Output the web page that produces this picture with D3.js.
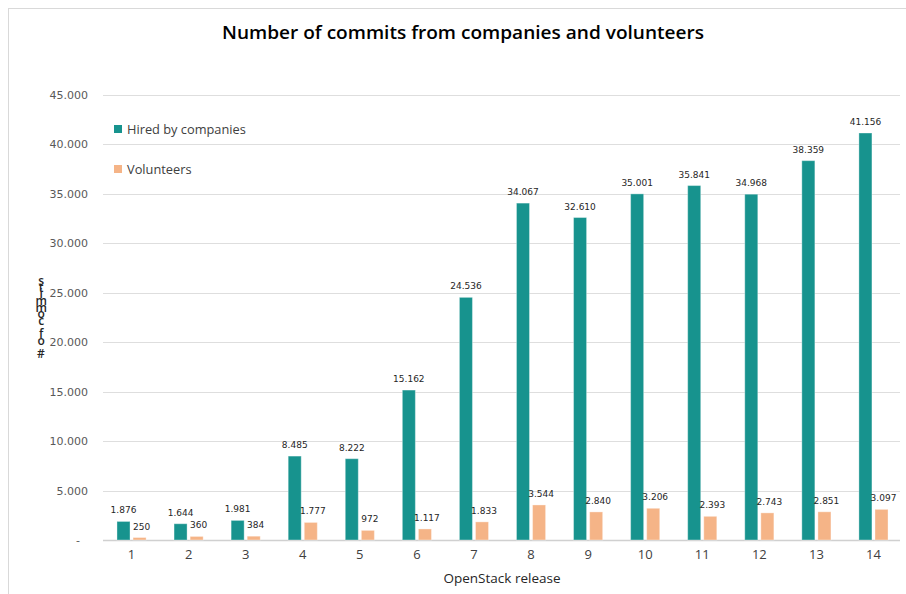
<!DOCTYPE html>
<html>
<head>
<meta charset="utf-8">
<script src="https://cdn.jsdelivr.net/npm/d3@7"></script>
<style>
  html, body { margin: 0; padding: 0; background: #fff; }
  svg { display: block; }
</style>
</head>
<body>
<svg id="chart" width="906" height="594"></svg>
<script>
// OpenStack releases and commit counts per release
const releases = ["1","2","3","4","5","6","7","8","9","10","11","12","13","14"];
const hiredByCompanies = [1876, 1644, 1981, 8485, 8222, 15162, 24536, 34067, 32610, 35001, 35841, 34968, 38359, 41156];
const volunteers = [250, 360, 384, 1777, 972, 1117, 1833, 3544, 2840, 3206, 2393, 2743, 2851, 3097];
const yTicks = [0, 5000, 10000, 15000, 20000, 25000, 30000, 35000, 40000, 45000];
const seriesNames = ["Hired by companies", "Volunteers"];
const seriesColors = ["#17938e", "#f5b487"];

const svg = d3.select("#chart");
const W = 906, H = 594;
const margin = { left: 103, right: 4, top: 95, bottom: 54 };

// chart frame
svg.append("rect")
  .attr("x", 8.5).attr("y", 8.5)
  .attr("width", W).attr("height", H)
  .attr("fill", "#fff").attr("stroke", "#d9d9d9");

const x = d3.scaleBand()
  .domain(releases)
  .range([margin.left, W - margin.right])
  .paddingInner(0.49).paddingOuter(0.245);

const x1 = d3.scaleBand()
  .domain([0, 1])
  .range([0, x.bandwidth()])
  .paddingInner(0.19);

const y = d3.scaleLinear()
  .domain([0, 45000])
  .range([H - margin.bottom, margin.top]);

const fmt = v => v === 0 ? "-" : d3.format(",")(v).replace(/,/g, ".");

// gridlines
svg.append("g")
  .selectAll("line")
  .data(yTicks)
  .join("line")
  .attr("x1", margin.left).attr("x2", W - margin.right - 2)
  .attr("y1", d => Math.round(y(d)) + 0.5).attr("y2", d => Math.round(y(d)) + 0.5)
  .attr("stroke", d => d === 0 ? "#d0d0d0" : "#dedede")
  .attr("stroke-width", d => d === 0 ? 1.5 : 1);

// y axis tick labels
const yAxis = d3.axisLeft(y).tickValues(yTicks).tickSize(0).tickPadding(0).tickFormat(fmt);
svg.append("g")
  .attr("transform", `translate(88,0)`)
  .call(yAxis)
  .call(g => g.select(".domain").remove())
  .call(g => g.selectAll("text")
    .attr("font-family", "DejaVu Sans, sans-serif")
    .attr("font-size", 11)
    .attr("fill", "#595959")
    .attr("dx", d => d === 0 ? -8 : 0));

// x axis labels
const xAxis = d3.axisBottom(x).tickSize(0).tickPadding(0);
svg.append("g")
  .attr("transform", `translate(0,${H - margin.bottom + 10})`)
  .call(xAxis)
  .call(g => g.select(".domain").remove())
  .call(g => g.selectAll("text")
    .attr("font-family", "Open Sans, sans-serif")
    .attr("font-size", 13)
    .attr("fill", "#404040"));

// grouped bars
const groups = svg.append("g")
  .selectAll("g")
  .data(releases.map((r, i) => ({ r, vals: [hiredByCompanies[i], volunteers[i]] })))
  .join("g")
  .attr("transform", d => `translate(${x(d.r)},0)`);

groups.selectAll("rect")
  .data(d => d.vals.map((v, k) => ({ v, k })))
  .join("rect")
  .attr("x", d => x1(d.k))
  .attr("width", x1.bandwidth())
  .attr("y", d => y(d.v))
  .attr("height", d => y(0) - y(d.v))
  .attr("fill", d => seriesColors[d.k])
  .attr("stroke", "#ffffff")
  .attr("stroke-opacity", 0.35)
  .attr("stroke-width", 1);

// value labels
groups.selectAll("text")
  .data(d => d.vals.map((v, k) => ({ v, k })))
  .join("text")
  .attr("x", d => x1(d.k) + x1.bandwidth() / 2 + (d.k === 1 ? 2 : 0))
  .attr("y", d => y(d.v) - 8)
  .attr("text-anchor", "middle")
  .attr("font-family", "DejaVu Sans, sans-serif")
  .attr("font-size", 9)
  .attr("fill", "#262626")
  .text(d => fmt(d.v));

// title
svg.append("text")
  .attr("x", 463).attr("y", 39)
  .attr("text-anchor", "middle")
  .attr("font-family", "Open Sans, sans-serif")
  .attr("font-size", 18.5)
  .attr("font-weight", 600)
  .attr("textLength", 482)
  .attr("lengthAdjust", "spacingAndGlyphs")
  .attr("fill", "#000")
  .text("Number of commits from companies and volunteers");

// legend
const legend = svg.append("g").attr("transform", "translate(114,124)");
seriesNames.forEach((name, i) => {
  const g = legend.append("g").attr("transform", `translate(0,${i * 40})`);
  g.append("rect").attr("width", 8).attr("height", 8).attr("y", 1).attr("fill", seriesColors[i]);
  g.append("text")
    .attr("x", 13).attr("y", 10)
    .attr("font-family", "Open Sans, sans-serif")
    .attr("font-size", 12.8)
    .attr("fill", "#404040")
    .text(name);
});

// x axis title
svg.append("text")
  .attr("x", 502).attr("y", 583)
  .attr("text-anchor", "middle")
  .attr("font-family", "Open Sans, sans-serif")
  .attr("font-size", 13.5)
  .attr("fill", "#262626")
  .text("OpenStack release");

// y axis title: upright letters stacked upward from the bottom
svg.append("text")
  .attr("x", 41).attr("y", 362)
  .attr("text-anchor", "start")
  .attr("font-family", "Open Sans, sans-serif")
  .attr("font-size", 12)
  .attr("font-weight", 600)
  .attr("fill", "#262626")
  .attr("textLength", 90)
  .attr("lengthAdjust", "spacing")
  .style("writing-mode", "vertical-rl")
  .style("text-orientation", "upright")
  .style("direction", "rtl")
  .style("unicode-bidi", "bidi-override")
  .text("# of commits");
</script>
</body>
</html>
